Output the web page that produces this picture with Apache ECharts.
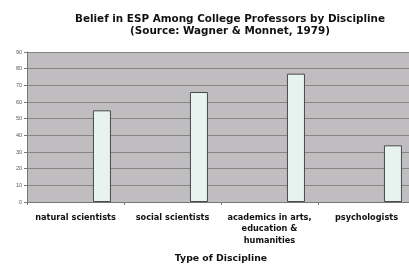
<!DOCTYPE html>
<html><head><meta charset="utf-8">
<script src="https://cdn.jsdelivr.net/npm/echarts@6/dist/echarts.min.js"></script>
<style>html,body{margin:0;padding:0;background:#fff;overflow:hidden;width:409px;height:268px}#c{width:415px;height:268px}</style>
</head><body><div id="c"></div>
<script>
const categories = ['natural scientists', 'social scientists', 'academics in arts,\neducation &\nhumanities', 'psychologists'];
const values = [55, 66, 77, 34];
const yTicks = { min: 0, max: 90, interval: 10 };
const titleLines = ['Belief in ESP Among College Professors by Discipline', '(Source: Wagner & Monnet, 1979)'];
const xName = 'Type of Discipline';

const chart = echarts.init(document.getElementById('c'), null, { renderer: 'canvas' });
chart.setOption({
  animation: false,
  backgroundColor: '#ffffff',
  title: {
    text: titleLines.join('\n'),
    left: 225, top: 9, textAlign: 'center',
    textStyle: { fontFamily: 'DejaVu Sans', fontSize: 10.4, fontWeight: 'bold', color: '#111', lineHeight: 11.5 }
  },
  grid: { left: 27, right: 0, top: 52, bottom: 63, containLabel: false,
    show: true, backgroundColor: '#c0bdc1', borderWidth: 0 },
  xAxis: {
    type: 'category', data: categories,
    axisLine: { lineStyle: { color: '#777', width: 1 } },
    axisTick: { show: true, length: 3, lineStyle: { color: '#777' } },
    axisLabel: { interval: 0, margin: 10, color: '#111', fontFamily: 'DejaVu Sans', fontSize: 8.2, fontWeight: 'bold', lineHeight: 11.5 },
    name: xName, nameLocation: 'middle', nameGap: 52,
    nameTextStyle: { fontFamily: 'DejaVu Sans', fontSize: 9.3, fontWeight: 'bold', color: '#111' }
  },
  yAxis: {
    type: 'value', min: yTicks.min, max: yTicks.max, interval: yTicks.interval,
    axisLine: { show: true, lineStyle: { color: '#777', width: 1 } },
    axisTick: { show: true, length: 3, lineStyle: { color: '#777' } },
    axisLabel: { color: '#555', fontFamily: 'Liberation Sans', fontSize: 5.5, margin: 5 },
    splitLine: { show: true, lineStyle: { color: '#8a847f', width: 1 } }
  },
  series: [
    { type: 'bar', data: values.map(() => null), barWidth: 18, barGap: '194%', silent: true },
    { type: 'bar', data: values, barWidth: 18, barGap: '194%',
      itemStyle: { color: '#e6f3ef', borderColor: '#4a4a4a', borderWidth: 1 } }
  ]
});
</script></body></html>
